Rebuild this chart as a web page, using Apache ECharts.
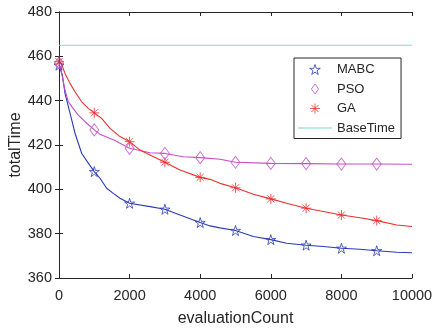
<!DOCTYPE html>
<html>
<head>
<meta charset="utf-8">
<script src="https://cdn.jsdelivr.net/npm/echarts@6/dist/echarts.min.js"></script>
<style>
html,body{margin:0;padding:0;background:#fff;}
#chart{width:434px;height:329px;}
</style>
</head>
<body>
<div id="chart"></div>
<script>
// ---- data ----
const markerX = [0, 1000, 2000, 3000, 4000, 5000, 6000, 7000, 8000, 9000];
const mabcMarkers = [456, 408, 393.7, 391, 385, 381.4, 377.3, 374.8, 373.4, 372.3];
const psoMarkers  = [457, 426.8, 418.5, 416.2, 414.3, 412.2, 411.7, 411.6, 411.4, 411.4];
const gaMarkers   = [457.6, 434.5, 421.5, 412.2, 405.4, 400.7, 395.7, 391.5, 388.4, 385.9];

const mabcCurveX = [0, 30, 95, 170, 265, 360, 453, 548, 642, 800, 1000, 1161, 1350, 1539, 1728, 2000, 2578, 3000, 3428, 4000, 4278, 4561, 5000, 5505, 6000, 6449, 7000, 7488, 8000, 8527, 9000, 9567, 10000];
const mabcCurveY = [456, 455.5, 451.6, 443.3, 437.3, 431.3, 425.3, 420.8, 416.3, 412.5, 408, 405, 400.5, 398.2, 396, 393.7, 392.2, 391, 388.4, 385, 383.5, 382.6, 381.4, 378.7, 377.3, 375.7, 374.8, 374.2, 373.4, 373, 372.3, 371.6, 371.4];

const psoCurveX = [0, 75, 170, 265, 360, 548, 737, 1000, 1161, 1586, 1728, 2000, 2578, 3000, 3522, 4000, 4561, 5000, 6000, 7000, 8000, 9000, 10000];
const psoCurveY = [457, 452.3, 444.8, 439.5, 437.3, 433.5, 430.5, 426.8, 424.8, 422, 420.8, 418.5, 416.5, 416.2, 414.7, 414.3, 413.6, 412.2, 411.7, 411.6, 411.4, 411.4, 411.3];

const gaCurveX = [0, 60, 170, 312, 453, 642, 830, 1000, 1209, 1445, 1728, 2000, 2295, 2578, 3000, 3428, 4000, 4278, 4561, 5000, 5505, 6000, 6449, 7000, 7488, 8000, 8527, 9000, 9567, 10000];
const gaCurveY = [457.6, 457, 452.3, 447.8, 444, 439.5, 436.5, 434.5, 432, 427.5, 423.8, 421.5, 417.7, 415.5, 412.2, 408.7, 405.4, 404.5, 402.7, 400.7, 397.8, 395.7, 393.7, 391.5, 390, 388.4, 387.2, 385.9, 383.9, 383.2];

const baseTimeX = [0, 10000];
const baseTimeY = [465, 465];

const xTicks = {min: 0, max: 10000, interval: 2000};
const yTicks = {min: 360, max: 480, interval: 20};

// ---- styles ----
const FONT = 'Liberation Sans, Arial, sans-serif';
const TXT = '#262626';
const C_MABC = '#2a3bb5';
const C_PSO = '#c64fc6';
const C_GA = '#e8322d';
const C_BASE = '#80d8d0';

const STAR = 'path://M0,-1 L0.2245,-0.309 L0.951,-0.309 L0.363,0.118 L0.588,0.809 L0,0.382 L-0.588,0.809 L-0.363,0.118 L-0.951,-0.309 L-0.2245,-0.309 Z';
const DIAMOND = 'path://M0,-1 L0.72,0 L0,1 L-0.72,0 Z';
const ASTER = 'path://M0,-1 L0,1 M-1,0 L1,0 M-0.707,-0.707 L0.707,0.707 M-0.707,0.707 L0.707,-0.707';
const HLINE = 'path://M0,0 L34,0 L34,1 L0,1 Z';

const zip = (xs, ys) => xs.map((x, i) => [x, ys[i]]);

function curve(name, xs, ys, color) {
  return {
    name: name, type: 'line', data: zip(xs, ys), symbol: 'none', showSymbol: false,
    lineStyle: {color: color, width: 1.1}, itemStyle: {color: color},
    silent: true, animation: false, z: 2
  };
}
function marks(name, ys, symbol, size, color) {
  return {
    name: name, type: 'scatter', data: zip(markerX, ys),
    symbol: symbol, symbolSize: size,
    itemStyle: {color: 'rgba(0,0,0,0)', borderColor: color, borderWidth: 1},
    silent: true, animation: false, z: 3
  };
}
function legendItem(name, icon, color, filled) {
  return {
    name: name, icon: icon,
    itemStyle: filled ? {color: color, borderWidth: 0}
                      : {color: 'rgba(0,0,0,0)', borderColor: color, borderWidth: 1}
  };
}

const chart = echarts.init(document.getElementById('chart'), null, {renderer: 'canvas'});
const axisLineStyle = {show: true, lineStyle: {color: '#262626', width: 1}};
const tickStyle = {show: true, inside: true, length: 4, lineStyle: {color: '#262626'}};
chart.setOption({
  animation: false,
  backgroundColor: '#fff',
  textStyle: {fontFamily: FONT},
  grid: {left: 59, top: 12, right: 22, bottom: 51, containLabel: false, outerBoundsMode: 'none'},
  legend: {
    left: 294, top: 58, orient: 'vertical',
    padding: [5, 6, 4, 4],
    itemWidth: 34, itemHeight: 10, itemGap: 6.5,
    symbolKeepAspect: true,
    backgroundColor: '#fff', borderColor: '#262626', borderWidth: 1,
    textStyle: {fontFamily: FONT, fontSize: 13, color: TXT},
    selectedMode: false,
    data: [
      legendItem('MABC', STAR, C_MABC, false),
      legendItem('PSO', DIAMOND, C_PSO, false),
      legendItem('GA', ASTER, C_GA, false),
      legendItem('BaseTime', HLINE, C_BASE, true)
    ]
  },
  xAxis: [{
    type: 'value', min: xTicks.min, max: xTicks.max, interval: xTicks.interval,
    name: 'evaluationCount', nameLocation: 'middle', nameGap: 33, nameMoveOverlap: false,
    nameTextStyle: {fontFamily: FONT, fontSize: 16, color: TXT},
    axisLine: axisLineStyle, axisTick: tickStyle,
    axisLabel: {fontFamily: FONT, fontSize: 14.5, color: TXT, margin: 10, formatter: v => String(v)},
    splitLine: {show: false}
  }, {
    type: 'value', position: 'top', min: xTicks.min, max: xTicks.max, interval: xTicks.interval,
    axisLine: axisLineStyle, axisTick: tickStyle,
    axisLabel: {show: false}, splitLine: {show: false}
  }],
  yAxis: [{
    type: 'value', min: yTicks.min, max: yTicks.max, interval: yTicks.interval,
    name: 'totalTime', nameLocation: 'middle', nameGap: 35, nameMoveOverlap: false,
    nameTextStyle: {fontFamily: FONT, fontSize: 16, color: TXT},
    axisLine: axisLineStyle, axisTick: tickStyle,
    axisLabel: {fontFamily: FONT, fontSize: 14.5, color: TXT, margin: 7, formatter: v => String(v)},
    splitLine: {show: false}
  }, {
    type: 'value', position: 'right', min: yTicks.min, max: yTicks.max, interval: yTicks.interval,
    axisLine: axisLineStyle, axisTick: tickStyle,
    axisLabel: {show: false}, splitLine: {show: false}
  }],
  series: [
    curve('BaseTime', baseTimeX, baseTimeY, C_BASE),
    curve('MABC line', mabcCurveX, mabcCurveY, C_MABC),
    curve('PSO line', psoCurveX, psoCurveY, C_PSO),
    curve('GA line', gaCurveX, gaCurveY, C_GA),
    marks('MABC', mabcMarkers, STAR, [10, 10], C_MABC),
    marks('PSO', psoMarkers, DIAMOND, [9, 12], C_PSO),
    marks('GA', gaMarkers, ASTER, [10, 10], C_GA)
  ]
});
</script>
</body>
</html>
